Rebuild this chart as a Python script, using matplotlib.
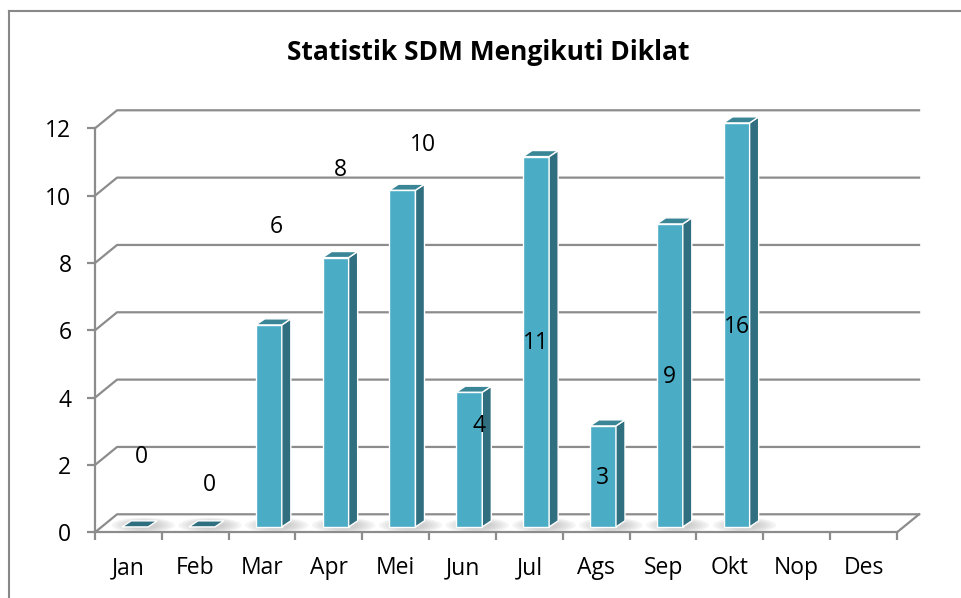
import matplotlib
matplotlib.use("Agg")
import matplotlib.pyplot as plt
from matplotlib.patches import Polygon, Ellipse
from matplotlib.lines import Line2D
import numpy as np

# DATA
months = ["Jan", "Feb", "Mar", "Apr", "Mei", "Jun", "Jul", "Ags", "Sep", "Okt", "Nop", "Des"]
values = [0, 0, 6, 8, 10, 4, 11, 3, 9, 12, None, None]
labels = ["0", "0", "6", "8", "10", "4", "11", "3", "9", "16"]
# where excel put the data labels (value units / category shift)
label_y = [2.25, 1.40, 9.08, 10.76, 11.50, 3.16, 5.62, 1.61, 4.61, 6.10]
label_dx = [0.20, 0.21, 0.22, 0.17, 0.41, 0.25, 0.10, 0.09, 0.09, 0.11]
yticks = [0, 2, 4, 6, 8, 10, 12]

# STYLE
font = "Open Sans"
fs = 16.5
front_col = "#4bacc6"
side_col = "#2f6f7f"
top_col = "#3a8697"
grid_col = "#8c8c8c"
ox, oy = 0.33, 0.535      # back wall offset
bx, by = 0.10, 0.16       # bar plane offset
bw = 0.39                 # bar width
dx, dy = 0.135, 0.18      # bar depth

fig = plt.figure(figsize=(9.62, 5.98), dpi=100)
ax = fig.add_axes([95/962, 65.7/598, 802/962, 404/598])
ax.set_xlim(-0.5, 11.5)
ax.set_ylim(0, 12)
ax.patch.set_alpha(0)

n = len(months)
x0, x1 = -0.5, n - 0.5

# back wall gridlines
for v in yticks:
    ax.add_line(Line2D([x0, x0 + ox, x1 + ox], [v, v + oy, v + oy], color=grid_col, lw=1.6,
                       clip_on=False, zorder=1))
# floor right edge
ax.add_line(Line2D([x1, x1 + ox], [0, oy], color=grid_col, lw=1.6, clip_on=False, zorder=1))

# floor shadows
for i, v in enumerate(values):
    if v is None:
        continue
    for k in range(6):
        ax.add_patch(Ellipse((i + bx + 0.12, by + 0.05), 0.95 - k * 0.1, 0.45 - k * 0.04,
                             color="#9a9a9a", alpha=0.09, lw=0, clip_on=False, zorder=2))

# bars
for i, v in enumerate(values):
    if v is None:
        continue
    xl = i + bx - bw / 2
    xr = i + bx + bw / 2
    if v > 0:
        ax.bar(i + bx, v, bottom=by, width=bw, color=front_col, edgecolor="white", lw=1.0,
               clip_on=False, zorder=3)
        side = Polygon([(xr, by), (xr + dx, by + dy), (xr + dx, v + by + dy), (xr, v + by)],
                       closed=True, facecolor=side_col, edgecolor="white", lw=1.0,
                       clip_on=False, zorder=3)
        ax.add_patch(side)
    top = Polygon([(xl, v + by), (xr, v + by), (xr + dx, v + by + dy), (xl + dx, v + by + dy)],
                  closed=True, facecolor=top_col if v > 0 else side_col, edgecolor="white",
                  lw=1.0, clip_on=False, zorder=3)
    ax.add_patch(top)

# data labels
for i, lab in enumerate(labels):
    ax.text(i + label_dx[i], label_y[i], lab, ha="center", va="center", fontsize=fs,
            family=font, color="black", zorder=5)

# axes
for s in ["top", "right"]:
    ax.spines[s].set_visible(False)
for s in ["left", "bottom"]:
    ax.spines[s].set_color(grid_col)
    ax.spines[s].set_linewidth(1.6)
ax.set_yticks(yticks)
ax.set_yticklabels([str(t) for t in yticks], family=font, fontsize=fs)
ax.set_xticks(np.arange(n))
ax.set_xticklabels(months, family=font, fontsize=fs)
ax.set_xticks(np.arange(n + 1) - 0.5, minor=True)
ax.tick_params(axis="y", direction="out", length=6, width=1.6, color=grid_col, pad=11)
ax.tick_params(axis="x", which="major", length=0, pad=17)
ax.tick_params(axis="x", which="minor", direction="out", length=6, width=1.6, color=grid_col)

# title
fig.text(488/962, 1 - 52/598, "Statistik SDM Mengikuti Diklat", ha="center", va="center",
         fontsize=19, fontweight="bold", family=font)

# chart area border
fig.add_artist(Line2D([9/962, 9/962], [0, 1 - 10.5/598], color="#888888", lw=1.5))
fig.add_artist(Line2D([9/962, 1], [1 - 10.5/598, 1 - 10.5/598], color="#888888", lw=1.5))

fig.savefig("out.png", dpi=100)
